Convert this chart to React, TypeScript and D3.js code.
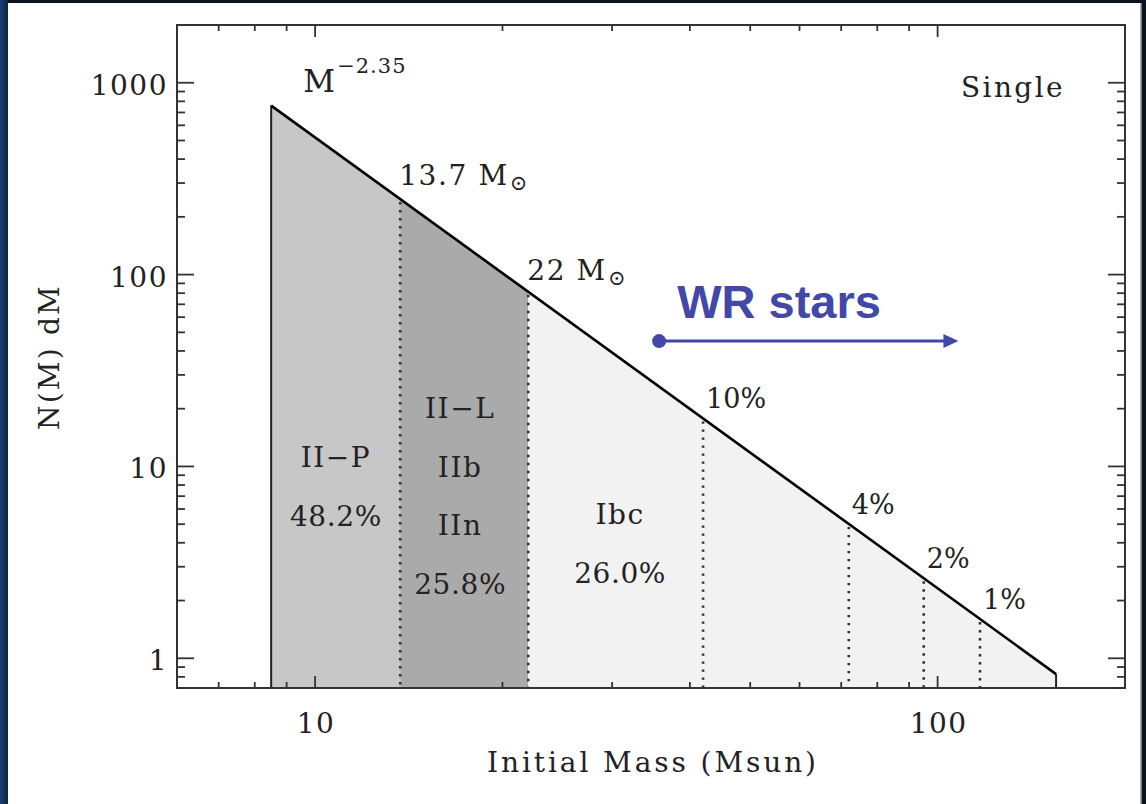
import React from "react";
import * as d3 from "d3";

// Salpeter-type initial mass function, N(M) dM ∝ M^-2.35
const imfSlope = -2.35;
const imfMassRange = [8.5, 155];
const imfNormAtLowMass = 760;

// Supernova type boundaries (initial mass, Msun) and fractions
const typeBoundaries = [8.5, 13.7, 22, 155];
const typeFills = ["#c7c7c7", "#aaaaaa", "#f2f2f2"];
const typeLabels = [
  ["II\u2212P", "48.2%"],
  ["II\u2212L", "IIb", "IIn", "25.8%"],
  ["Ibc", "26.0%"],
];
const typeLabelMass = [10.8, 17.1, 30.9];
const typeLabelTop = [467, 418, 524];

// Cumulative-fraction markers within the WR range
const wrMarkerMass = [42, 72, 95, 117];
const wrMarkerLabels = ["10%", "4%", "2%", "1%"];

// Boundary mass labels
const boundaryMass = [13.7, 22];
const boundaryLabels = ["13.7", "22"];

// WR arrow (mass range, at a given N level)
const wrArrowMass = [35.7, 108];
const wrArrowLevel = 45;

const xDomain = [6, 200];
const yDomain = [0.7, 2000];
const yTickLabels = ["1", "10", "100", "1000"];
const xTickLabels = ["10", "100"];

const W = 1146;
const H = 804;
const plot = { left: 177, right: 1125, top: 25, bottom: 688 };

const serif = "'DejaVu Serif', serif";
const ink = "#222";
const fs = 28;

export default function App() {
  const x = d3.scaleLog().domain(xDomain).range([plot.left, plot.right]);
  const y = d3.scaleLog().domain(yDomain).range([plot.bottom, plot.top]);
  const imf = (m: number) =>
    imfNormAtLowMass * Math.pow(m / imfMassRange[0], imfSlope);

  const line = d3
    .line<number>()
    .x((m) => x(m))
    .y((m) => y(imf(m)));

  const area = d3
    .area<number>()
    .x((m) => x(m))
    .y0(plot.bottom)
    .y1((m) => y(imf(m)));

  const xTicks = x.ticks();
  const yTicks = y.ticks();
  const isDecade = (v: number) =>
    Math.abs(Math.log10(v) - Math.round(Math.log10(v))) < 1e-9;

  const arrowX0 = x(wrArrowMass[0]);
  const arrowX1 = x(wrArrowMass[1]);
  const arrowY = y(wrArrowLevel);

  const isWord = (s: string) => /[A-Za-z]/.test(s);

  return (
    <svg
      width={W}
      height={H}
      style={{ position: "fixed", left: 0, top: 0 }}
      fontFamily={serif}
    >
      <defs>
        <linearGradient id="edge" x1="0" x2="1">
          <stop offset="0" stopColor="#1c3f70" />
          <stop offset="1" stopColor="#0f2445" />
        </linearGradient>
      </defs>
      {/* slide background */}
      <rect x={0} y={0} width={W} height={H} fill="#0b1220" />
      <rect x={0} y={0} width={8} height={H} fill="url(#edge)" />
      <rect x={8} y={3} width={1133} height={H - 3} fill="#ffffff" />
      <line x1={1141} x2={1141} y1={3} y2={H} stroke="#9a9a9a" strokeWidth={1.5} />

      {/* filled mass ranges under the IMF */}
      {typeFills.map((fill, i) => {
        const lo = typeBoundaries[i];
        const hi = typeBoundaries[i + 1];
        const ms = d3.range(0, 41).map((k) => lo * Math.pow(hi / lo, k / 40));
        return <path key={i} d={area(ms) || ""} fill={fill} />;
      })}

      {/* dotted boundaries */}
      {[...boundaryMass, ...wrMarkerMass].map((m, i) => (
        <line
          key={i}
          x1={x(m)}
          x2={x(m)}
          y1={y(imf(m)) + 3}
          y2={plot.bottom}
          stroke="#333"
          strokeWidth={2.6}
          strokeDasharray="2.4,5.6"
        />
      ))}

      {/* IMF outline */}
      <line
        x1={x(imfMassRange[0])}
        x2={x(imfMassRange[0])}
        y1={y(imf(imfMassRange[0]))}
        y2={plot.bottom}
        stroke="#222"
        strokeWidth={2}
      />
      <line
        x1={x(imfMassRange[1])}
        x2={x(imfMassRange[1])}
        y1={y(imf(imfMassRange[1]))}
        y2={plot.bottom}
        stroke="#222"
        strokeWidth={2}
      />
      <path
        d={line(imfMassRange) || ""}
        fill="none"
        stroke="#000"
        strokeWidth={2.6}
      />

      {/* axes frame */}
      <rect
        x={plot.left}
        y={plot.top}
        width={plot.right - plot.left}
        height={plot.bottom - plot.top}
        fill="none"
        stroke="#333"
        strokeWidth={2}
      />
      {xTicks.map((t, i) => {
        const len = isDecade(t) ? 12 : 6;
        return (
          <g key={i} stroke="#333" strokeWidth={1.8}>
            <line x1={x(t)} x2={x(t)} y1={plot.bottom} y2={plot.bottom - len} />
            <line x1={x(t)} x2={x(t)} y1={plot.top} y2={plot.top + len} />
          </g>
        );
      })}
      {yTicks.map((t, i) => {
        const len = isDecade(t) ? 17 : 8;
        return (
          <g key={i} stroke="#333" strokeWidth={1.8}>
            <line x1={plot.left} x2={plot.left + len} y1={y(t)} y2={y(t)} />
            <line x1={plot.right} x2={plot.right - len} y1={y(t)} y2={y(t)} />
          </g>
        );
      })}

      {/* tick labels */}
      {yTickLabels.map((s) => (
        <text
          key={s}
          x={plot.left - 9}
          y={y(+s) + 12}
          textAnchor="end"
          fontSize={fs}
          letterSpacing={1.5}
          fill={ink}
        >
          {s}
        </text>
      ))}
      {xTickLabels.map((s) => (
        <text
          key={s}
          x={x(+s) + 1}
          y={plot.bottom + 45}
          textAnchor="middle"
          fontSize={fs}
          letterSpacing={1.5}
          fill={ink}
        >
          {s}
        </text>
      ))}

      {/* axis titles */}
      <text
        x={(plot.left + plot.right) / 2 + 2}
        y={772}
        textAnchor="middle"
        fontSize={fs}
        letterSpacing={2.9}
        fill={ink}
      >
        Initial Mass (Msun)
      </text>
      <text
        transform={`translate(59,357) rotate(-90)`}
        textAnchor="middle"
        fontSize={fs}
        letterSpacing={2.2}
        fill={ink}
      >
        N(M) dM
      </text>

      {/* IMF slope label */}
      <text
        x={x(imfMassRange[0]) + 32}
        y={y(imf(imfMassRange[0])) - 14}
        fontSize={31}
        fill={ink}
      >
        M
      </text>
      <text
        x={x(imfMassRange[0]) + 66}
        y={y(imf(imfMassRange[0])) - 33}
        fontSize={21}
        letterSpacing={1}
        fill={ink}
      >
        {"\u22122.35"}
      </text>

      <text x={1065} y={97} textAnchor="end" fontSize={fs} letterSpacing={2.4} fill={ink}>
        Single
      </text>

      {/* boundary mass labels */}
      {boundaryMass.map((m, i) => {
        const bx = x(m);
        const by = y(imf(m)) - (i === 0 ? 14 : 12);
        return (
          <text key={i} x={bx - 1} y={by} fontSize={fs} letterSpacing={1.6} fill={ink}>
            {boundaryLabels[i]} M
            <tspan fontSize={21} dx={1} dy={5}>
              {"\u2299"}
            </tspan>
          </text>
        );
      })}

      {/* supernova type labels */}
      {typeLabels.map((lines, i) =>
        lines.map((s, j) => (
          <text
            key={`${i}-${j}`}
            x={x(typeLabelMass[i])}
            y={typeLabelTop[i] + j * 58.5}
            textAnchor="middle"
            fontSize={fs}
            letterSpacing={isWord(s) ? 1.5 : 0.6}
            fill={ink}
          >
            {s}
          </text>
        ))
      )}

      {/* cumulative fraction labels */}
      {wrMarkerMass.map((m, i) => (
        <text key={i} x={x(m) + 3} y={y(imf(m)) - 10} fontSize={27} fill={ink}>
          {wrMarkerLabels[i]}
        </text>
      ))}

      {/* WR stars arrow */}
      <text
        x={arrowX0 + 18}
        y={arrowY - 23}
        fontFamily="'Liberation Sans', Arial, sans-serif"
        fontWeight="bold"
        fontSize={47}
        fill="#4148a8"
      >
        WR stars
      </text>
      <line
        x1={arrowX0}
        x2={arrowX1 - 14}
        y1={arrowY}
        y2={arrowY}
        stroke="#4148a8"
        strokeWidth={3}
      />
      <circle cx={arrowX0} cy={arrowY} r={7} fill="#4148a8" />
      <path
        d={`M${arrowX1},${arrowY} L${arrowX1 - 15},${arrowY - 7} L${arrowX1 - 15},${arrowY + 7} Z`}
        fill="#4148a8"
      />
    </svg>
  );
}
